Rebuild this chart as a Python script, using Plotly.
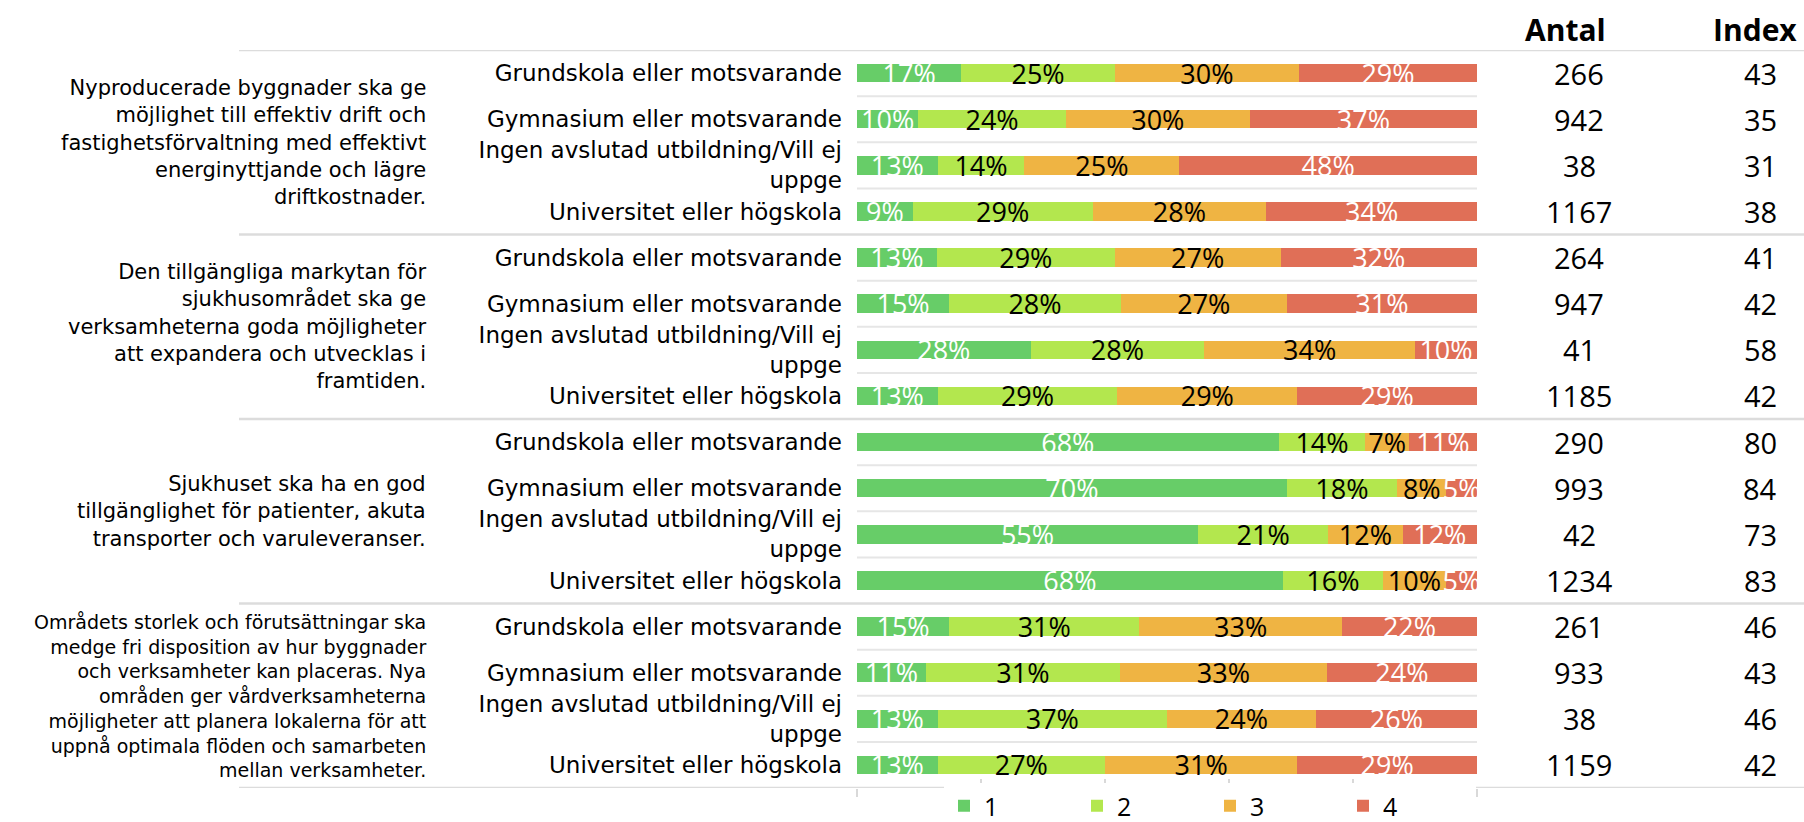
import plotly.graph_objects as go

# ---- data -------------------------------------------------------------
groups = [
    "Nyproducerade byggnader ska ge<br>möjlighet till effektiv drift och<br>fastighetsförvaltning med effektivt<br>energinyttjande och lägre<br>driftkostnader.",
    "Den tillgängliga markytan för<br>sjukhusområdet ska ge<br>verksamheterna goda möjligheter<br>att expandera och utvecklas i<br>framtiden.",
    "Sjukhuset ska ha en god<br>tillgänglighet för patienter, akuta<br>transporter och varuleveranser.",
    "Områdets storlek och förutsättningar ska<br>medge fri disposition av hur byggnader<br>och verksamheter kan placeras. Nya<br>områden ger vårdverksamheterna<br>möjligheter att planera lokalerna för att<br>uppnå optimala flöden och samarbeten<br>mellan verksamheter.",
]
education = [
    "Grundskola eller motsvarande",
    "Gymnasium eller motsvarande",
    "Ingen avslutad utbildning/Vill ej<br>uppge",
    "Universitet eller högskola",
]
series_names = ["1", "2", "3", "4"]

share_1 = [17, 10, 13, 9, 13, 15, 28, 13, 68, 70, 55, 68, 15, 11, 13, 13]
share_2 = [25, 24, 14, 29, 29, 28, 28, 29, 14, 18, 21, 16, 31, 31, 37, 27]
share_3 = [30, 30, 25, 28, 27, 27, 34, 29, 7, 8, 12, 10, 33, 33, 24, 31]
share_4 = [29, 37, 48, 34, 32, 31, 10, 29, 11, 5, 12, 5, 22, 24, 26, 29]

antal = [266, 942, 38, 1167, 264, 947, 41, 1185, 290, 993, 42, 1234, 261, 933, 38, 1159]
index = [43, 35, 31, 38, 41, 42, 58, 42, 80, 84, 73, 83, 46, 43, 46, 42]

# ---- styling ----------------------------------------------------------
colors = ["#67CD68", "#B3E74E", "#EFB443", "#E06F57"]
text_colors = ["white", "black", "black", "white"]
FONT = "Open Sans, Roboto, sans-serif"
LABEL_FONT = "DejaVu Sans, Open Sans, sans-serif"

# figure fills the page exactly (body margin removed in post_script below)
W, H = 1804, 822


def px(x):
    return x / W


def py(y):
    return 1 - y / H


n_rows = len(groups) * len(education)
rows = list(range(n_rows))
row_labels = education * len(groups)

X_DOM = [px(857), px(1477)]
Y_DOM = [py(788), py(50)]

fig = go.Figure()
for name, vals, col, tcol in zip(series_names, [share_1, share_2, share_3, share_4],
                                 colors, text_colors):
    fig.add_trace(
        go.Bar(
            y=rows,
            x=vals,
            orientation="h",
            name=name,
            marker=dict(color=col, line=dict(width=0)),
            width=0.4,
            text=[f"{v}%" for v in vals],
            textposition="inside",
            insidetextanchor="middle",
            textangle=0,
            constraintext="none",
            insidetextfont=dict(color=tcol, size=27, family=FONT),
            hoverinfo="skip",
        )
    )

# invisible trace to activate the overlay axis carrying the inside ticks
fig.add_trace(go.Scatter(x=[0], y=[0], xaxis="x2", mode="markers",
                         marker=dict(opacity=0), showlegend=False, hoverinfo="skip"))

tick_style = dict(domain=X_DOM, range=[0, 100], dtick=20, showgrid=False,
                  zeroline=False, showticklabels=False, showline=False,
                  tickwidth=1.5, tickcolor="#d9d9d9", fixedrange=True)

fig.update_layout(
    barmode="stack",
    barnorm="percent",
    width=W,
    height=H,
    margin=dict(l=0, r=0, t=0, b=0, autoexpand=False),
    paper_bgcolor="white",
    plot_bgcolor="white",
    font=dict(family=FONT, color="black"),
    showlegend=True,
    legend=dict(
        orientation="h",
        x=px(944),
        xanchor="left",
        y=py(806),
        yanchor="middle",
        font=dict(size=25, family=FONT),
        entrywidth=88,
        entrywidthmode="pixels",
        itemwidth=30,
        traceorder="normal",
    ),
    xaxis=dict(ticks="outside", ticklen=8, anchor="y", **tick_style),
    xaxis2=dict(ticks="inside", ticklen=9, overlaying="x", anchor="y", **tick_style),
    yaxis=dict(
        domain=Y_DOM,
        range=[n_rows - 0.5, -0.5],
        tickvals=rows,
        ticktext=row_labels,
        tickfont=dict(size=23, family=LABEL_FONT),
        showgrid=False,
        zeroline=False,
        ticks="",
        ticklabelstandoff=14,
        fixedrange=True,
    ),
)

# separators between rows inside each group (bar area only)
for r in range(n_rows - 1):
    if (r + 1) % len(education) != 0:
        fig.add_shape(type="line", xref="paper", yref="y",
                      x0=X_DOM[0], x1=X_DOM[1], y0=r + 0.5, y1=r + 0.5,
                      line=dict(color="#e6e6e6", width=2), layer="below")

# separators between question groups
for g in range(len(groups) + 1):
    yy = g * len(education) - 0.5
    fig.add_shape(type="line", xref="paper", yref="y",
                  x0=px(239), x1=1, y0=yy, y1=yy,
                  line=dict(color="#dcdcdc", width=2.5), layer="below")

# question text, one per group
for g, q in enumerate(groups):
    fig.add_annotation(
        x=px(428), xref="paper", xanchor="right",
        y=g * len(education) + (len(education) - 1) / 2, yref="y",
        text=q, showarrow=False, align="right",
        font=dict(size=21 if g < 3 else 19, family=LABEL_FONT),
    )

# Antal / Index columns
fig.add_annotation(x=px(1565), xref="paper", xanchor="center",
                   y=py(29), yref="paper", yanchor="middle",
                   text="<b>Antal</b>", showarrow=False,
                   font=dict(size=30, family=FONT))
fig.add_annotation(x=px(1799), xref="paper", xanchor="right",
                   y=py(29), yref="paper", yanchor="middle",
                   text="<b>Index</b>", showarrow=False,
                   font=dict(size=30, family=FONT))
for r in rows:
    fig.add_annotation(x=px(1579), xref="paper", xanchor="center",
                       y=r, yref="y", text=str(antal[r]), showarrow=False,
                       font=dict(size=29, family=FONT))
    fig.add_annotation(x=px(1779), xref="paper", xanchor="right",
                       y=r, yref="y", text=str(index[r]), showarrow=False,
                       font=dict(size=29, family=FONT))

fig.write_html("out.html",
               config={"displayModeBar": False},
               post_script="document.body.style.margin='0px';")
